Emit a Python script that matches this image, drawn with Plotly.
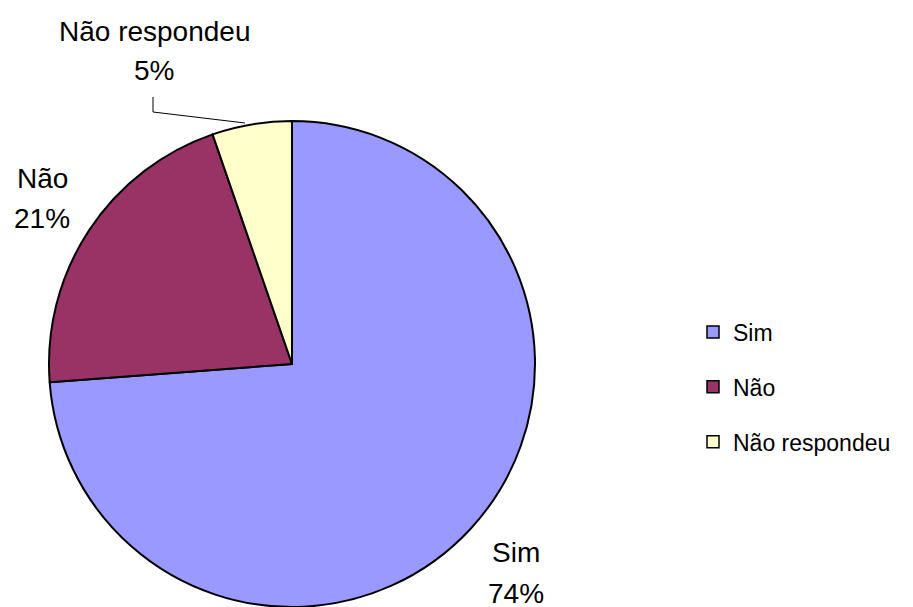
import plotly.graph_objects as go

categories = ["Sim", "Não", "Não respondeu"]
values = [73.8, 20.9, 5.3]
colors = ["#9999FF", "#993366", "#FFFFCC"]

W, H = 913, 607
FONT = "Liberation Sans, Arial, sans-serif"

total = sum(values)
pct = [round(v / total * 100) for v in values]

fig = go.Figure()
fig.add_trace(go.Pie(
    labels=categories, values=values, sort=False, direction="clockwise",
    rotation=0, textinfo="none", hoverinfo="label+percent",
    marker=dict(colors=colors, line=dict(color="black", width=2)),
    domain=dict(x=[(292 - 243) / W, (292 + 243) / W], y=[0, 486 / H]),
    showlegend=False,
))

for c, col in zip(categories, colors):
    fig.add_trace(go.Scatter(
        x=[None], y=[None], mode="markers", name=c, legendgroup=c,
        marker=dict(symbol="square", size=12, color=col,
                    line=dict(color="black", width=1.5)),
    ))

# label line centres (pixels): (x, y of name line, y of percent line)
label_pos = [(516, 552, 593), (42, 178, 218), (154, 31, 70)]
for c, p, (px, py1, py2) in zip(categories, pct, label_pos):
    for txt, py in ((c, py1), (f"{p}%", py2)):
        fig.add_annotation(
            x=px / W, y=1 - py / H, xref="paper", yref="paper",
            text=txt, showarrow=False,
            font=dict(family=FONT, size=28, color="black"),
            xanchor="center", yanchor="middle", align="center",
        )

# leader line for "Não respondeu"
fig.add_shape(type="path", xref="paper", yref="paper",
              path=f"M {153/W} {1-97/H} L {153/W} {1-112/H} L {245/W} {1-123/H}",
              line=dict(color="black", width=1))

fig.update_layout(
    width=W, height=H,
    margin=dict(l=0, r=0, t=0, b=0),
    paper_bgcolor="white", plot_bgcolor="white",
    xaxis=dict(visible=False), yaxis=dict(visible=False),
    font=dict(family=FONT, color="black"),
    legend=dict(x=693 / W, y=1 - 387 / H, xanchor="left", yanchor="middle",
                font=dict(family=FONT, size=23, color="black"),
                tracegroupgap=22, itemwidth=30, bgcolor="rgba(0,0,0,0)"),
)

fig.write_html("out.html", config={"displayModeBar": False},
               post_script="document.body.style.margin='0';document.body.style.overflow='hidden';")
